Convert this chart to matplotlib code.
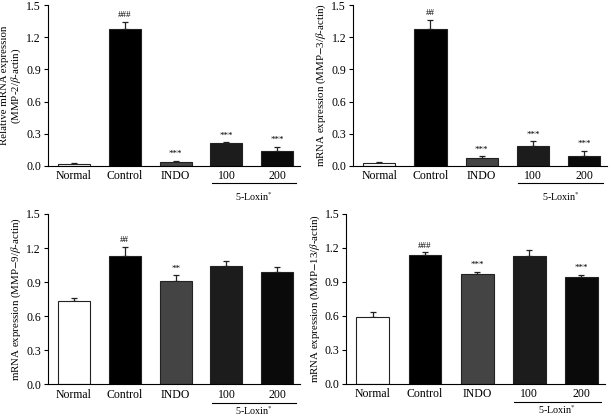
import numpy as np
import matplotlib.pyplot as plt

plt.rcParams['font.family'] = ['Liberation Serif', 'DejaVu Serif']
plt.rcParams['mathtext.fontset'] = 'stix'

groups = ['Normal', 'Control', 'INDO', '100', '200']
bar_colors = ['#ffffff', '#000000', '#444444', '#1c1c1c', '#0a0a0a']

# MMP-2
mmp2_mean = [0.02, 1.28, 0.04, 0.21, 0.14]
mmp2_err = [0.01, 0.06, 0.01, 0.01, 0.04]
mmp2_sig = ['', '###', '***', '***', '***']
# MMP-3
mmp3_mean = [0.03, 1.28, 0.07, 0.19, 0.09]
mmp3_err = [0.01, 0.08, 0.02, 0.04, 0.05]
mmp3_sig = ['', '##', '***', '***', '***']
# MMP-9
mmp9_mean = [0.73, 1.13, 0.91, 1.04, 0.99]
mmp9_err = [0.03, 0.08, 0.05, 0.05, 0.04]
mmp9_sig = ['', '##', '**', '', '']
# MMP-13
mmp13_mean = [0.59, 1.14, 0.97, 1.13, 0.94]
mmp13_err = [0.04, 0.02, 0.02, 0.05, 0.02]
mmp13_sig = ['', '###', '***', '', '***']

ylabels = [
    'Relative mRNA expression\n(MMP-2/$\\mathit{\\beta}$-actin)',
    'mRNA expression (MMP$-$3/$\\mathit{\\beta}$-actin)',
    'mRNA expression (MMP$-$9/$\\mathit{\\beta}$-actin)',
    'mRNA expression (MMP$-$13/$\\mathit{\\beta}$-actin)',
]

panels = [
    (mmp2_mean, mmp2_err, mmp2_sig, [0.078, 0.602, 0.411, 0.386], -0.15),
    (mmp3_mean, mmp3_err, mmp3_sig, [0.575, 0.602, 0.414, 0.386], -0.15),
    (mmp9_mean, mmp9_err, mmp9_sig, [0.078, 0.078, 0.411, 0.409], -0.115),
    (mmp13_mean, mmp13_err, mmp13_sig, [0.564, 0.080, 0.421, 0.407], -0.115),
]

fig = plt.figure(figsize=(6.14, 4.17), dpi=100)

for (mean, err, sig, rect, lox_y), ylab in zip(panels, ylabels):
    ax = fig.add_axes(rect)
    x = np.arange(len(groups))
    ax.bar(x, mean, width=0.63, color=bar_colors, edgecolor='#222222', linewidth=0.8, zorder=2)
    ax.errorbar(x, mean, yerr=[np.zeros(len(err)), err], fmt='none', ecolor='#222222',
                elinewidth=0.9, capsize=2.5, capthick=0.9, zorder=1)
    for xi, m, e, s in zip(x, mean, err, sig):
        if s:
            ax.text(xi, m + e + 0.025, s, ha='center', va='bottom', fontsize=6.5)
    ax.set_xlim(-0.51, 4.45)
    ax.set_ylim(0, 1.5)
    ax.set_yticks([0.0, 0.3, 0.6, 0.9, 1.2, 1.5])
    ax.set_yticklabels(['0.0', '0.3', '0.6', '0.9', '1.2', '1.5'], fontsize=8.5)
    ax.set_xticks(x)
    ax.set_xticklabels(groups, fontsize=8.5)
    ax.tick_params(axis='x', length=0, pad=3)
    ax.tick_params(axis='y', length=3, width=0.8, pad=2)
    ax.spines['top'].set_visible(False)
    ax.spines['right'].set_visible(False)
    ax.spines['left'].set_linewidth(0.8)
    ax.spines['bottom'].set_linewidth(0.8)
    ax.set_ylabel(ylab, fontsize=7.8, labelpad=2, linespacing=1.05)
    trans = ax.get_xaxis_transform()
    ax.plot([2.71, 4.37], [-0.106, -0.106], color='black', lw=0.8,
            transform=trans, clip_on=False)
    ax.text(3.54, lox_y, '5-Loxin$^{*}$', transform=trans, ha='center', va='top',
            fontsize=7.3)

fig.savefig('out.png', dpi=100)
